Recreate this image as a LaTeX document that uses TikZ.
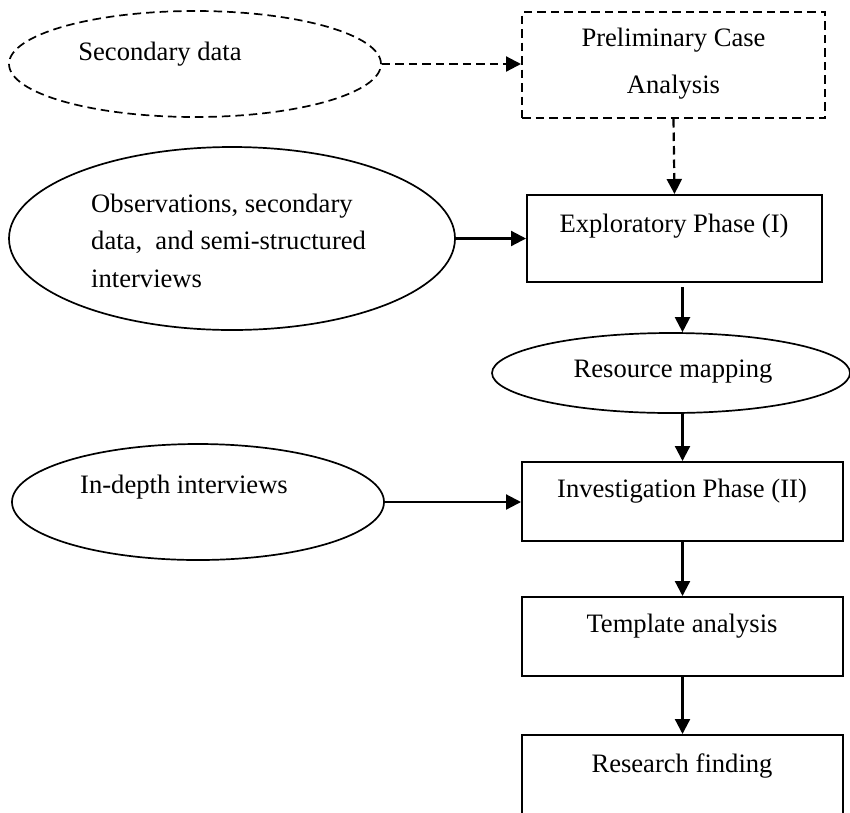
\documentclass[tikz,border=0pt]{standalone}
\usepackage{fontspec}
\setmainfont{Liberation Serif}
\usetikzlibrary{shapes.geometric,arrows.meta}

\tikzset{
  lbl/.style={inner sep=0pt, font=\fontsize{26.6}{32}\selectfont},
  boxshape/.style={draw, line width=2pt, rectangle, inner sep=0pt},
  ellshape/.style={draw, line width=1.7pt, ellipse, inner sep=0pt},
  dashline/.style={dash pattern=on 8.5pt off 5pt},
  flow/.style={line width=2.2pt, -{Triangle[length=15pt,width=15pt]}},
}

\begin{document}
\begin{tikzpicture}[x=1pt, y=-1pt]
\useasboundingbox (0,0) rectangle (850,812);
\clip (0,0) rectangle (850,812);

% shapes
\node[ellshape, dashline, minimum width=372pt, minimum height=106pt] (sec) at (195,64) {};
\node[boxshape, dashline, minimum width=303pt, minimum height=106pt] (prelim) at (673.5,65) {};
\node[ellshape, minimum width=446pt, minimum height=183pt] (obs) at (232,238.5) {};
\node[boxshape, minimum width=295pt, minimum height=87pt] (explor) at (674.5,238.5) {};
\node[ellshape, minimum width=358pt, minimum height=80pt] (resmap) at (671,373) {};
\node[ellshape, minimum width=372pt, minimum height=116pt] (indepth) at (198,502) {};
\node[boxshape, minimum width=321pt, minimum height=79pt] (invest) at (682.5,501.5) {};
\node[boxshape, minimum width=321pt, minimum height=79pt] (templ) at (682.5,636.5) {};
\node[boxshape, minimum width=321pt, minimum height=90pt] (research) at (682.5,780) {};

% texts
\node[lbl, anchor=base] (tsec) at (160,60) {Secondary data};
\node[lbl, anchor=north, align=center, font=\fontsize{26.6}{47}\selectfont] (tprelim) at (673.5,27.8) {Preliminary Case\\Analysis};
\node[lbl, anchor=north west, align=left, font=\fontsize{26.6}{37.5}\selectfont] (tobs) at (91,193.5) {Observations, secondary\\data,~ and semi-structured\\interviews};
\node[lbl, anchor=base] (texplor) at (674,232) {Exploratory Phase (I)};
\node[lbl, anchor=base] (tresmap) at (673,377) {Resource mapping};
\node[lbl, anchor=base] (tindepth) at (184,493) {In-depth interviews};
\node[lbl, anchor=base] (tinvest) at (682,497) {Investigation Phase (II)};
\node[lbl, anchor=base] (ttempl) at (682,632) {Template analysis};
\node[lbl, anchor=base] (tresearch) at (682,772) {Research finding};

% connectors
\draw[flow, dashline] (sec.east) -- (sec.east -| prelim.west);
\draw[flow, dashline] (prelim.south) -- (explor.north);
\draw[flow] (obs.east) -- (obs.east -| explor.west);
\draw[flow] ([yshift=-4pt]invest.north |- explor.south) -- (invest.north |- resmap.north);
\draw[flow] (invest.north |- resmap.south) -- (invest.north);
\draw[flow] (indepth.east) -- (indepth.east -| invest.west);
\draw[flow] (invest.south) -- (templ.north);
\draw[flow] (templ.south) -- (research.north);
\end{tikzpicture}
\end{document}
